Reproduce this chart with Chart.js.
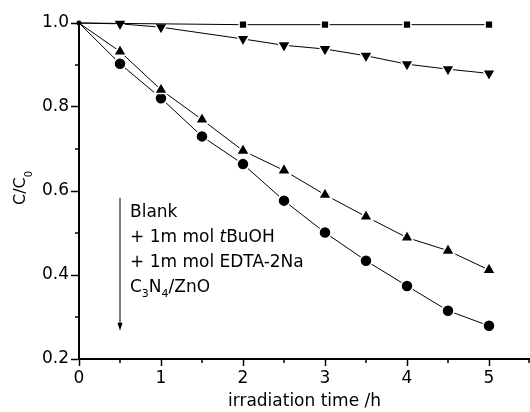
<!DOCTYPE html>
<html>
<head>
<meta charset="utf-8">
<script src="https://cdn.jsdelivr.net/npm/chart.js@4.4.0/dist/chart.umd.min.js"></script>
<style>
  html, body { margin: 0; padding: 0; background: #fff; }
</style>
</head>
<body>
<canvas id="myChart" width="530" height="412"></canvas>
<script>
// data
const timeBlank = [0, 2, 3, 4, 5];
const blank = [1.0, 0.996, 0.996, 0.996, 0.996];
const timeBuOH = [0, 0.5, 1, 2, 2.5, 3, 3.5, 4, 4.5, 5];
const tBuOH = [1.0, 0.998, 0.990, 0.962, 0.947, 0.938, 0.922, 0.902, 0.890, 0.880];
const timeFull = [0, 0.5, 1, 1.5, 2, 2.5, 3, 3.5, 4, 4.5, 5];
const edta = [1.0, 0.932, 0.841, 0.770, 0.696, 0.649, 0.591, 0.539, 0.489, 0.458, 0.412];
const c3n4zno = [1.0, 0.903, 0.821, 0.730, 0.664, 0.577, 0.501, 0.434, 0.374, 0.315, 0.279];

const xMajor = [0, 1, 2, 3, 4, 5];
const xMinor = [0.5, 1.5, 2.5, 3.5, 4.5, 5.5];
const yMajor = [0.2, 0.4, 0.6, 0.8, 1.0];
const yMinor = [0.3, 0.5, 0.7, 0.9];

const legendLines = [
    [{t: 'Blank'}],
    [{t: '+ 1m mol '}, {t: 't', italic: true}, {t: 'BuOH'}],
    [{t: '+ 1m mol EDTA-2Na'}],
    [{t: 'C'}, {t: '3', sub: true}, {t: 'N'}, {t: '4', sub: true}, {t: '/ZnO'}]
];
const yTitle = [{t: 'C/C'}, {t: '0', sub: true}];

const FAMILY = '"DejaVu Sans", Arial, sans-serif';
const font = {family: FAMILY, size: 17};

function pts(xs, ys) {
    return xs.map((x, i) => ({x: x, y: ys[i]}));
}

function series(label, xs, ys, style, radius, rot) {
    return {
        label: label,
        data: pts(xs, ys),
        showLine: true,
        borderColor: '#000',
        borderWidth: 1,
        pointStyle: style,
        pointRotation: rot || 0,
        pointBackgroundColor: '#000',
        pointBorderColor: c => c.dataIndex === 0 ? '#000' : '#fff',
        pointBorderWidth: c => c.dataIndex === 0 ? 0 : 1.5,
        pointRadius: c => c.dataIndex === 0 ? 2.5 : radius,
        pointHoverRadius: radius,
        clip: false
    };
}

// text with sub/italic segments
function richText(ctx, segs, x, y, size, subSize, subDrop) {
    for (let s of segs) {
        let sz = s.sub ? subSize : size;
        ctx.font = (s.italic ? 'italic ' : '') + sz + 'px ' + FAMILY;
        ctx.fillText(s.t, x, y + (s.sub ? subDrop : 0));
        x += ctx.measureText(s.t).width;
    }
}

const extras = {
    id: 'extras',
    afterDraw(chart) {
        const ctx = chart.ctx;
        const xs = chart.scales.x, ys = chart.scales.y;
        const area = chart.chartArea;
        ctx.save();
        ctx.strokeStyle = '#000';
        ctx.fillStyle = '#000';
        ctx.lineWidth = 1.5;

        // minor ticks
        for (let v of xMinor) {
            let px = Math.min(xs.getPixelForValue(v), chart.width - 1);
            ctx.beginPath();
            ctx.moveTo(px, area.bottom);
            ctx.lineTo(px, area.bottom + 4);
            ctx.stroke();
        }
        for (let v of yMinor) {
            let py = ys.getPixelForValue(v);
            ctx.beginPath();
            ctx.moveTo(area.left - 4, py);
            ctx.lineTo(area.left, py);
            ctx.stroke();
        }

        // arrow
        let ax = xs.getPixelForValue(0.5);
        let aTop = ys.getPixelForValue(0.584);
        let aBot = ys.getPixelForValue(0.267);
        ctx.lineWidth = 1;
        ctx.beginPath();
        ctx.moveTo(ax, aTop);
        ctx.lineTo(ax, aBot - 6);
        ctx.stroke();
        ctx.beginPath();
        ctx.moveTo(ax, aBot);
        ctx.lineTo(ax - 2.5, aBot - 8);
        ctx.lineTo(ax + 2.5, aBot - 8);
        ctx.closePath();
        ctx.fill();

        // legend text
        ctx.textBaseline = 'alphabetic';
        ctx.textAlign = 'left';
        legendLines.forEach((line, i) => {
            richText(ctx, line, ax + 10, aTop + 19 + i * 25, 17, 11, 5);
        });

        // y title
        ctx.save();
        ctx.translate(25, 205);
        ctx.rotate(-Math.PI / 2);
        richText(ctx, yTitle, 0, 0, 16, 10, 7);
        ctx.restore();

        ctx.restore();
    }
};

const canvas = document.getElementById('myChart');
const myChart = new Chart(canvas, {
    type: 'scatter',
    data: {
        datasets: [
            series('Blank', timeBlank, blank, 'rect', 5.5),
            series('+ 1m mol tBuOH', timeBuOH, tBuOH, 'triangle', 7.5, 180),
            series('+ 1m mol EDTA-2Na', timeFull, edta, 'triangle', 7.5),
            series('C3N4/ZnO', timeFull, c3n4zno, 'circle', 6)
        ]
    },
    options: {
        responsive: false,
        animation: false,
        devicePixelRatio: 1,
        layout: {autoPadding: false, padding: {top: 23, right: 0, left: 0, bottom: 0}},
        plugins: {
            legend: {display: false},
            tooltip: {enabled: false}
        },
        scales: {
            x: {
                type: 'linear',
                min: 0,
                max: 5.5,
                afterBuildTicks: s => { s.ticks = xMajor.map(v => ({value: v})); },
                afterFit: s => { s.height = 53; s.paddingLeft = 0; s.paddingRight = 0; },
                grid: {drawOnChartArea: false, tickLength: 7, tickWidth: 1.5, tickColor: '#000'},
                border: {color: '#000', width: 2},
                ticks: {color: '#000', font: font, padding: 2, maxRotation: 0, autoSkip: false},
                title: {display: true, text: 'irradiation time /h', color: '#000', font: font, padding: 0}
            },
            y: {
                type: 'linear',
                min: 0.2,
                max: 1.0,
                afterBuildTicks: s => { s.ticks = yMajor.map(v => ({value: v})); },
                afterFit: s => { s.width = 79; s.paddingTop = 0; s.paddingBottom = 0; },
                grid: {drawOnChartArea: false, tickLength: 8, tickWidth: 1.5, tickColor: '#000'},
                border: {color: '#000', width: 2},
                ticks: {color: '#000', font: font, padding: 2, autoSkip: false,
                    callback: v => v.toFixed(1)}
            }
        }
    },
    plugins: [extras]
});
</script>
</body>
</html>
